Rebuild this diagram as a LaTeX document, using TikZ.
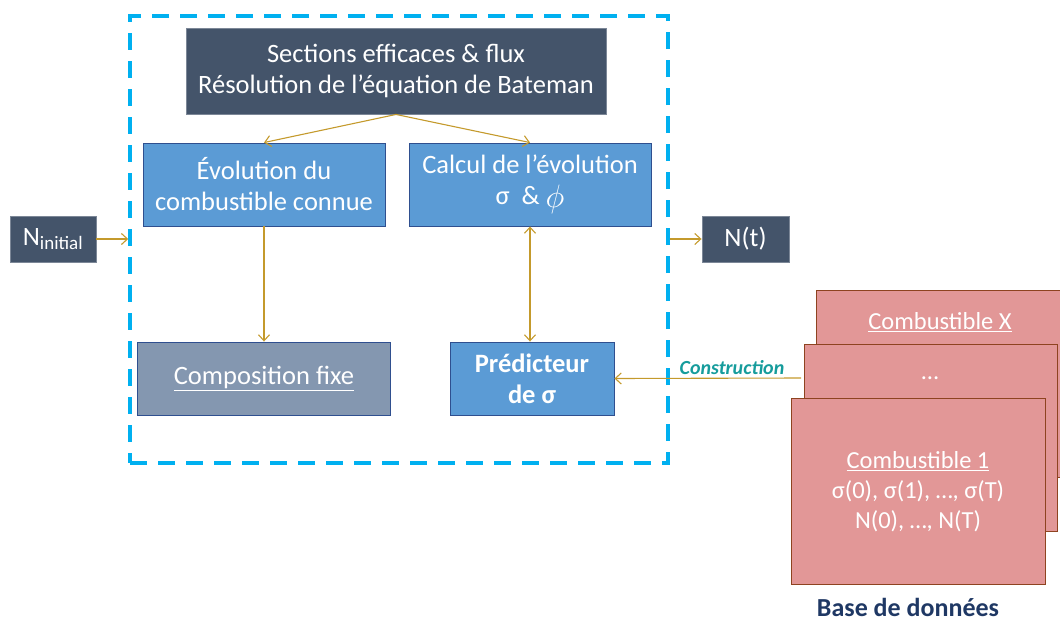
\documentclass[tikz,border=0pt]{standalone}
\usepackage{fontspec}
\usepackage{graphicx}
\setmainfont{Carlito}
\usetikzlibrary{arrows.meta}
\definecolor{slate}{HTML}{44546A}
\definecolor{bluebox}{HTML}{5B9BD5}
\definecolor{blueedge}{HTML}{2F4F8F}
\definecolor{greyblue}{HTML}{8497B0}
\definecolor{pinkbox}{HTML}{E29797}
\definecolor{pinkedge}{HTML}{8E4320}
\definecolor{framecol}{HTML}{00B0F0}
\definecolor{flow}{HTML}{C49A2C}
\definecolor{teallabel}{HTML}{169C9C}
\definecolor{navy}{HTML}{1F3864}
\tikzset{
  box/.style={draw, line width=0.9pt, inner sep=0pt, text=white, align=center,
    font=\fontsize{26.5}{31}\selectfont},
  darkbox/.style={box, fill=slate, draw=slate!70!white},
  bluebx/.style={box, fill=bluebox, draw=blueedge},
  greybx/.style={box, fill=greyblue, draw=blueedge},
  card/.style={draw=pinkedge, fill=pinkbox, line width=0.9pt, inner sep=0pt},
  cardtext/.style={text=white, align=center, font=\fontsize{24.5}{30}\selectfont},
  flowarrow/.style={draw=flow, line width=1.1pt, -{Straight Barb[length=6pt,width=11pt]}},
}
\begin{document}
\begin{tikzpicture}[x=1pt,y=-1pt]
\useasboundingbox (0,0) rectangle (1060,621);
\clip (0,0) rectangle (1060,621);

% dashed frame around the evolution solver
\node[draw=framecol, line width=3.5pt, dash pattern=on 17pt off 11pt,
      minimum width=538pt, minimum height=447pt, inner sep=0pt] (frame) at (399,239.5) {};

% solver blocks
\node[darkbox, minimum width=420pt, minimum height=86pt] (top) at (396,71)
  {Sections efficaces \& flux\\Résolution de l’équation de Bateman};
\node[bluebx, minimum width=242pt, minimum height=83pt] (evo) at (264,184.5)
  {Évolution du\\combustible connue};
\node[bluebx, minimum width=242pt, minimum height=83pt] (calc) at (530,184.5)
  {Calcul de l’évolution\\σ~ \& \raisebox{-2.5pt}{\scalebox{1.3}{$\phi$}}};
\node[greybx, minimum width=253pt, minimum height=73pt] (comp) at (264,378.5)
  {\underline{Composition fixe}};
\node[bluebx, minimum width=164pt, minimum height=73pt, font=\fontsize{26.5}{31}\selectfont\bfseries] (pred) at (532,378.5)
  {Prédicteur\\de σ};

% inputs and outputs
\node[darkbox, minimum width=86pt, minimum height=46pt] (nini) at (53,239)
  {N\textsubscript{\fontsize{19}{19}\selectfont initial}};
\node[darkbox, minimum width=87pt, minimum height=46pt] (nt) at (745.5,239) {N(t)};

% stacked database cards
\node[card, minimum width=250pt, minimum height=187pt] (cardX) at (941,383.5) {};
\node[cardtext] (labX) at (940,322) {\underline{Combustible X}};
\node[card, minimum width=253pt, minimum height=187pt] (cardM) at (930.5,437.5) {};
\node[cardtext] (labM) at (930,378) {…};
\node[card, minimum width=254pt, minimum height=186pt] (card1) at (918,491) {};
\node[cardtext] (lab1) at (918,492)
  {\underline{Combustible 1}\\σ(0), σ(1), …, σ(T)\\N(0), …, N(T)};
\node[text=navy, font=\fontsize{26}{28}\selectfont\bfseries] (db) at (908,607) {Base de données};

% connectors
\draw[flowarrow] (top.south) -- (evo.north);
\draw[flowarrow] (top.south) -- (calc.north);
\draw[flowarrow] (evo.south) -- (comp.north);
\draw[flowarrow, {Straight Barb[length=6pt,width=11pt]}-{Straight Barb[length=6pt,width=11pt]}]
  (calc.south) -- (calc.south |- pred.north);
\draw[flowarrow] (nini.east) -- (frame.west |- nini.east);
\draw[flowarrow] (frame.east |- nt.west) -- (nt.west);
\coordinate (cstart) at (801,378);
\draw[flowarrow] (cstart) -- (pred.east)
  node[pos=0.37, above=0pt, text=teallabel, font=\fontsize{20}{22}\selectfont\bfseries\itshape] (cons) {Construction};
\end{tikzpicture}
\end{document}
